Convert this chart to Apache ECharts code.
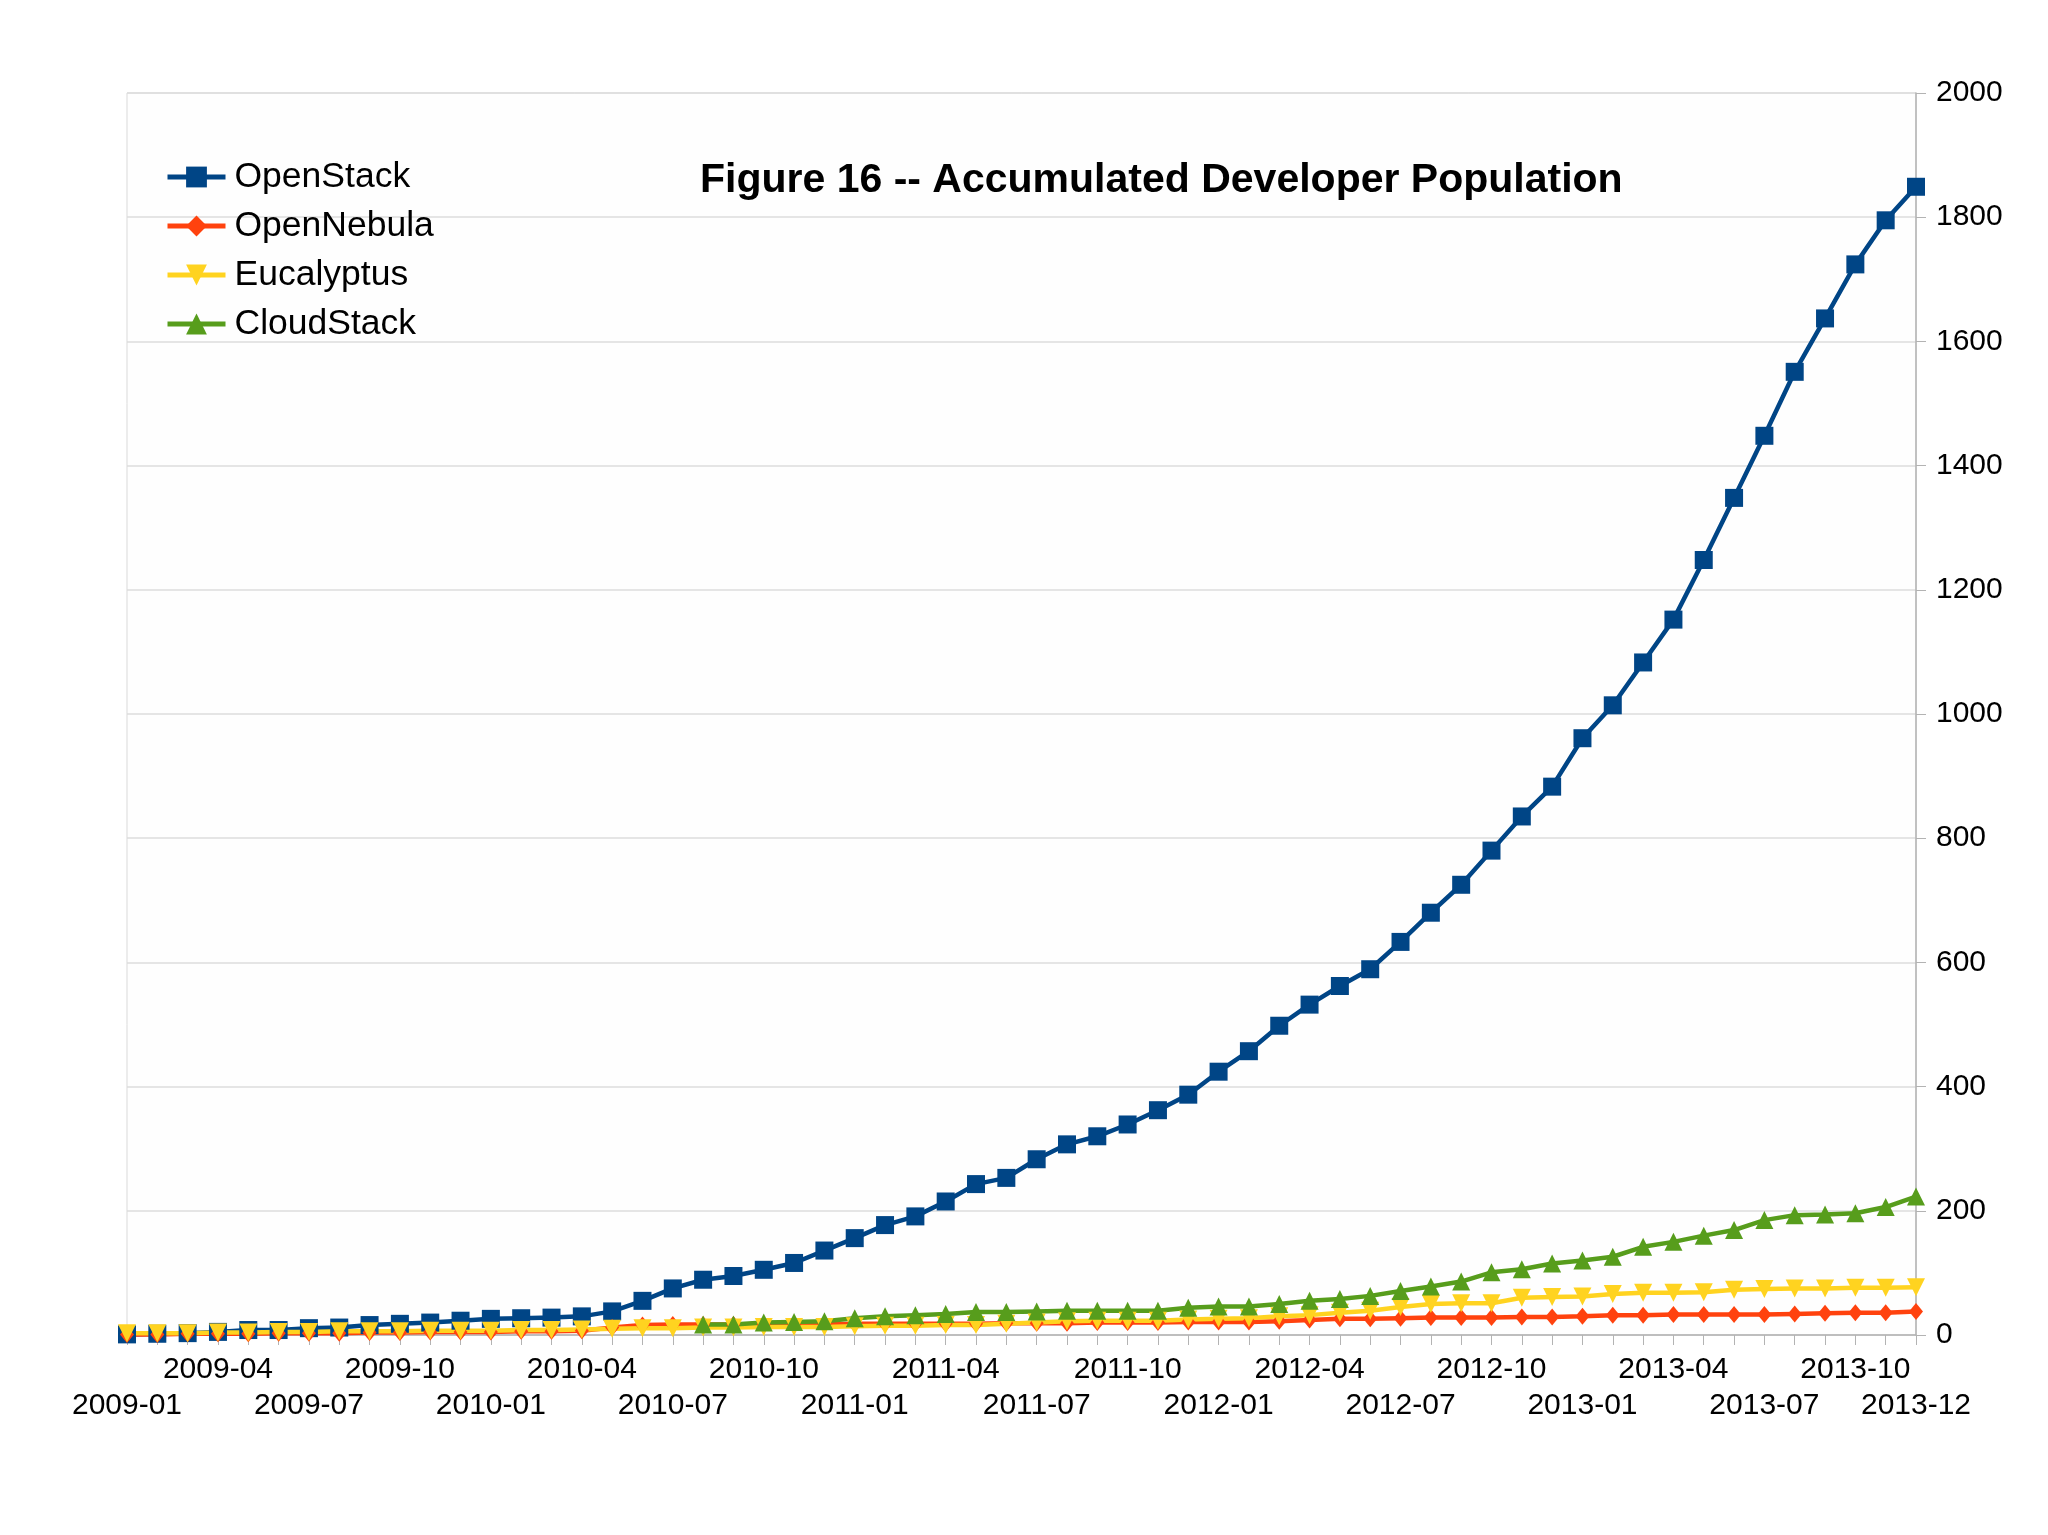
<!DOCTYPE html>
<html>
<head>
<meta charset="utf-8">
<title>Figure 16 -- Accumulated Developer Population</title>
<script src="https://cdn.jsdelivr.net/npm/echarts@6/dist/echarts.min.js"></script>
<style>
  html, body { margin: 0; padding: 0; background: #ffffff; }
  #chart { width: 2048px; height: 1535px; }
</style>
</head>
<body>
<div id="chart"></div>
<script>
// months 2009-01 .. 2013-12
var months = [];
for (var y = 2009; y <= 2013; y++) {
  for (var m = 1; m <= 12; m++) {
    months.push(y + '-' + (m < 10 ? '0' + m : m));
  }
}

var openStack = [
  1, 2, 3, 5, 8, 8, 11, 12, 16, 18, 20, 23,
  26, 27, 28, 30, 38, 55, 75, 89, 95, 105, 116, 136,
  156, 177, 191, 215, 243, 253, 283, 307, 320, 339, 362, 387,
  424, 457, 498, 532, 562, 589, 633, 680, 725, 780, 835, 883,
  961, 1014, 1083, 1152, 1248, 1348, 1448, 1551, 1637, 1724, 1795, 1849
];
var openNebula = [
  1, 1, 2, 2, 2, 3, 3, 3, 4, 4, 5, 5,
  5, 6, 6, 7, 12, 16, 17, 17, 17, 17, 17, 17,
  18, 18, 18, 18, 18, 19, 19, 19, 20, 20, 20, 21,
  21, 21, 22, 24, 26, 26, 27, 28, 28, 28, 29, 29,
  30, 32, 32, 33, 33, 33, 33, 34, 35, 36, 36, 38
];
var eucalyptus = [
  3, 3, 3, 4, 4, 5, 5, 6, 6, 6, 7, 7,
  7, 8, 8, 9, 10, 11, 11, 12, 12, 13, 13, 13,
  14, 15, 15, 16, 16, 18, 20, 22, 23, 23, 23, 25,
  26, 27, 30, 32, 36, 39, 45, 50, 51, 51, 60, 61,
  62, 66, 68, 68, 69, 73, 74, 75, 75, 76, 76, 77
];
var cloudStack = [
  null, null, null, null, null, null, null, null, null, null, null, null,
  null, null, null, null, null, null, null, 17, 17, 20, 21, 22,
  27, 30, 32, 34, 37, 37, 38, 39, 39, 39, 39, 44,
  46, 46, 50, 55, 58, 63, 71, 78, 86, 101, 106, 115,
  120, 126, 142, 150, 160, 169, 185, 193, 194, 196, 206, 223
];
var yTicks = { min: 0, max: 2000, step: 200 };

var font = 'Liberation Sans, Arial, sans-serif';
var chart = echarts.init(document.getElementById('chart'));

function lineSeries(name, data, color, symbol, size, rotate) {
  return {
    name: name,
    type: 'line',
    data: data,
    symbol: symbol,
    symbolSize: size,
    symbolRotate: rotate || 0,
    showAllSymbol: true,
    connectNulls: false,
    lineStyle: { color: color, width: 4.5 },
    itemStyle: { color: color },
    emphasis: { disabled: true },
    animation: false
  };
}

var option = {
  backgroundColor: '#ffffff',
  animation: false,
  title: {
    text: 'Figure 16 -- Accumulated Developer Population',
    left: 700,
    top: 157,
    padding: 0,
    textStyle: { fontFamily: font, fontWeight: 'bold', fontSize: 41, color: '#000', lineHeight: 48 }
  },
  legend: {
    orient: 'vertical',
    left: 165,
    top: 159,
    padding: 0,
    itemGap: 13,
    itemWidth: 58,
    itemHeight: 26,
    lineStyle: { width: 5 },
    textStyle: { fontFamily: font, fontSize: 35.5, color: '#000', lineHeight: 36, padding: [0, 0, 0, 4] },
    data: ['OpenStack', 'OpenNebula', 'Eucalyptus', 'CloudStack']
  },
  grid: {
    left: 127, right: 132, top: 93, bottom: 200,
    show: true, borderColor: '#d9d9d9', borderWidth: 1, backgroundColor: '#fefefe'
  },
  xAxis: [{
    type: 'category',
    position: 'bottom',
    boundaryGap: false,
    data: months,
    axisLine: { lineStyle: { color: '#b3b3b3', width: 1.5 } },
    axisTick: { interval: 0, length: 10, lineStyle: { color: '#b3b3b3' } },
    axisLabel: {
      interval: function (i) { return i % 6 === 3; },
      margin: 20, fontSize: 30, fontFamily: font, color: '#000'
    },
    splitLine: { show: false }
  }, {
    type: 'category',
    position: 'bottom',
    boundaryGap: false,
    data: months,
    axisLine: { show: false },
    axisTick: { show: false },
    axisLabel: {
      interval: function (i) { return i % 6 === 0 || i === months.length - 1; },
      margin: 56, fontSize: 30, fontFamily: font, color: '#000'
    },
    splitLine: { show: false }
  }],
  yAxis: {
    type: 'value',
    position: 'right',
    min: yTicks.min,
    max: yTicks.max,
    interval: yTicks.step,
    axisLine: { show: true, lineStyle: { color: '#b3b3b3', width: 1.5 } },
    axisTick: { show: true, length: 10, lineStyle: { color: '#b3b3b3' } },
    axisLabel: {
      margin: 20, fontSize: 30, fontFamily: font, color: '#000',
      formatter: function (v) { return String(v); }
    },
    splitLine: { lineStyle: { color: '#dcdcdc', width: 1.5 } }
  },
  series: [
    lineSeries('OpenStack', openStack, '#004586', 'rect', 18),
    lineSeries('OpenNebula', openNebula, '#ff420e', 'diamond', [14, 17]),
    lineSeries('Eucalyptus', eucalyptus, '#ffd320', 'triangle', 18, 180),
    lineSeries('CloudStack', cloudStack, '#579d1c', 'triangle', 18)
  ]
};

chart.setOption(option);
</script>
</body>
</html>
